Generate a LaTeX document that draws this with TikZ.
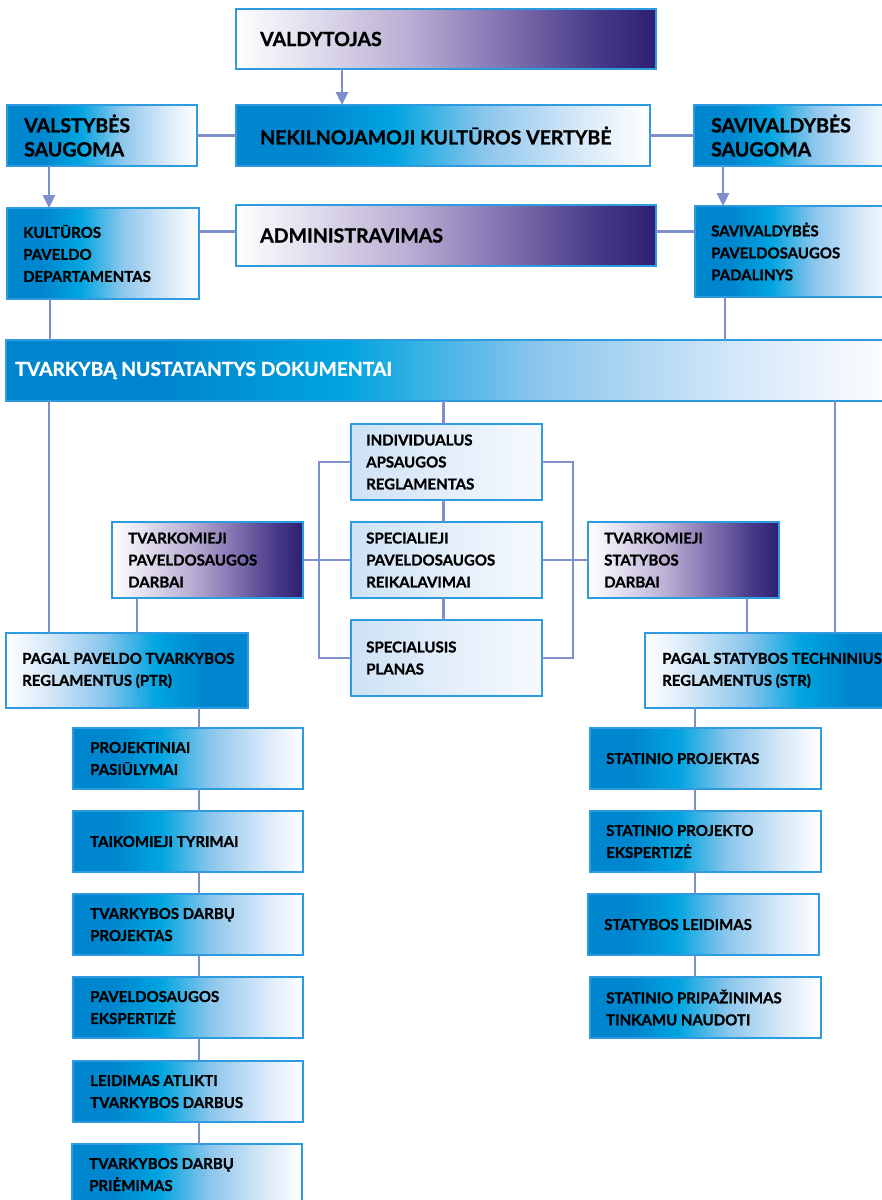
\documentclass[tikz,border=0pt]{standalone}
\usepackage{fontspec}
\setmainfont{Lato}[BoldFeatures={FakeBold=1}]
\usetikzlibrary{arrows.meta,calc}
\definecolor{conn}{HTML}{7F8FCB}
\definecolor{bord}{HTML}{2E9BE0}
\definecolor{bA}{HTML}{0086CE}
\definecolor{bB}{HTML}{00A4E0}
\definecolor{bC}{HTML}{8CC6EC}
\definecolor{bD}{HTML}{D4E7F8}
\definecolor{pA}{HTML}{E8E4F1}
\definecolor{pB}{HTML}{BBB1D5}
\definecolor{pC}{HTML}{8172B0}
\definecolor{pD}{HTML}{473987}
\definecolor{pE}{HTML}{2E1E72}
\definecolor{lA}{HTML}{CEE2F5}
\definecolor{lB}{HTML}{F7FAFE}
\pgfdeclarehorizontalshading{bluewhite}{100bp}{color(0bp)=(bA); color(25bp)=(bA); color(34bp)=(bA); color(44bp)=(bB); color(55bp)=(bC); color(66bp)=(bD); color(75bp)=(white); color(100bp)=(white)}
\pgfdeclarehorizontalshading{whiteblue}{100bp}{color(0bp)=(white); color(25bp)=(white); color(34bp)=(bD); color(45bp)=(bC); color(56bp)=(bB); color(66bp)=(bA); color(75bp)=(bA); color(100bp)=(bA)}
\pgfdeclarehorizontalshading{whitepurple}{100bp}{color(0bp)=(white); color(25bp)=(white); color(32bp)=(pA); color(45bp)=(pB); color(57bp)=(pC); color(68bp)=(pD); color(75bp)=(pE); color(100bp)=(pE)}
\tikzset{
  boxbase/.style={draw=bord, line width=1.3pt, inner sep=0pt, outer sep=0pt},
  bluebox/.style={boxbase, shading=bluewhite},
  revbox/.style={boxbase, shading=whiteblue},
  purplebox/.style={boxbase, shading=whitepurple},
  lightbox/.style={boxbase, left color=lA, right color=lB},
  bigtxt/.style={inner sep=0pt, align=left, font=\bfseries\fontsize{19.5}{24}\selectfont},
  medtxt/.style={inner sep=0pt, align=left, font=\bfseries\fontsize{15}{22}\selectfont},
  whtxt/.style={inner sep=0pt, align=left, text=white, font=\bfseries\fontsize{19.3}{22}\selectfont},
  conn/.style={draw=conn, line width=2.6pt},
  arr/.style={conn, -{Triangle[width=12pt,length=13pt]}}
}
\newcommand\mkbox[9]{%
  \node[#1, minimum width=#6pt, minimum height=#7pt, anchor=north west] (#3) at (#4,#5) {};
  \node[#2, anchor=west] (#3-t) at ([xshift=#8pt]#3.west) {#9};}
\begin{document}
\begin{tikzpicture}[x=1pt,y=-1pt]
\useasboundingbox (0,0) rectangle (882,1200);
\clip (0,0) rectangle (882,1200);
% top
\mkbox{purplebox}{bigtxt}{vald}{236}{9}{420}{60}{24}{VALDYTOJAS}
\mkbox{bluebox}{bigtxt}{nekil}{236}{105}{414}{61}{24}{NEKILNOJAMOJI KULTŪROS VERTYBĖ}
\mkbox{bluebox}{bigtxt}{valst}{7}{105}{190}{61}{17}{VALSTYBĖS\\SAUGOMA}
\mkbox{bluebox}{bigtxt}{savs}{694}{105}{200}{61}{17}{SAVIVALDYBĖS\\SAUGOMA}
\mkbox{bluebox}{medtxt}{kpd}{7}{208}{192}{91}{16}{KULTŪROS\\PAVELDO\\DEPARTAMENTAS}
\mkbox{purplebox}{bigtxt}{admin}{236}{205}{420}{61}{24}{ADMINISTRAVIMAS}
\mkbox{bluebox}{medtxt}{spp}{695}{206}{200}{91}{16}{SAVIVALDYBĖS\\PAVELDOSAUGOS\\PADALINYS}
\mkbox{bluebox}{whtxt}{tnd}{6}{340}{890}{61}{9}{TVARKYBĄ NUSTATANTYS DOKUMENTAI}
% middle
\mkbox{lightbox}{medtxt}{iar}{351}{424}{191}{76}{15}{INDIVIDUALUS\\APSAUGOS\\REGLAMENTAS}
\mkbox{lightbox}{medtxt}{spr}{351}{522}{191}{76}{15}{SPECIALIEJI\\PAVELDOSAUGOS\\REIKALAVIMAI}
\mkbox{lightbox}{medtxt}{sp}{351}{620}{191}{76}{15}{SPECIALUSIS\\PLANAS}
\mkbox{purplebox}{medtxt}{tpd}{112}{522}{191}{76}{16}{TVARKOMIEJI\\PAVELDOSAUGOS\\DARBAI}
\mkbox{purplebox}{medtxt}{tsd}{588}{522}{191}{76}{16}{TVARKOMIEJI\\STATYBOS\\DARBAI}
\mkbox{revbox}{medtxt}{ptr}{6}{633}{242}{75}{16}{PAGAL PAVELDO TVARKYBOS\\REGLAMENTUS (PTR)}
\mkbox{revbox}{medtxt}{str}{645}{633}{252}{75}{17}{PAGAL STATYBOS TECHNINIUS\\REGLAMENTUS (STR)}
% left chain
\mkbox{bluebox}{medtxt}{la}{73}{728}{230}{61}{17}{PROJEKTINIAI\\PASIŪLYMAI}
\mkbox{bluebox}{medtxt}{lb}{73}{811}{230}{61}{17}{TAIKOMIEJI TYRIMAI}
\mkbox{bluebox}{medtxt}{lc}{73}{894}{230}{61}{17}{TVARKYBOS DARBŲ\\PROJEKTAS}
\mkbox{bluebox}{medtxt}{ld}{73}{977}{230}{61}{17}{PAVELDOSAUGOS\\EKSPERTIZĖ}
\mkbox{bluebox}{medtxt}{le}{73}{1061}{230}{61}{17}{LEIDIMAS ATLIKTI\\TVARKYBOS DARBUS}
\mkbox{bluebox}{medtxt}{lf}{72}{1144}{230}{61}{17}{TVARKYBOS DARBŲ\\PRIĖMIMAS}
% right chain
\mkbox{bluebox}{medtxt}{ra}{590}{728}{231}{61}{16}{STATINIO PROJEKTAS}
\mkbox{bluebox}{medtxt}{rb}{590}{811}{231}{61}{16}{STATINIO PROJEKTO\\EKSPERTIZĖ}
\mkbox{bluebox}{medtxt}{rc}{588}{894}{231}{61}{16}{STATYBOS LEIDIMAS}
\mkbox{bluebox}{medtxt}{rd}{590}{977}{231}{61}{16}{STATINIO PRIPAŽINIMAS\\TINKAMU NAUDOTI}
% connectors top
\draw[arr] ([xshift=106pt]vald.south west) -- ([xshift=106pt]vald.south west |- nekil.north);
\draw[conn] (valst.east) -- (nekil.west);
\draw[conn] (nekil.east) -- (savs.west);
\draw[arr] ([xshift=42pt]valst.south west) -- ([xshift=42pt]valst.south west |- kpd.north);
\draw[arr] ([xshift=29pt]savs.south west) -- ([xshift=29pt]savs.south west |- spp.north);
\draw[conn] ([yshift=4pt]admin.west -| kpd.east) -- ([yshift=4pt]admin.west);
\draw[conn] ([yshift=4pt]admin.east) -- ([yshift=4pt]admin.east -| spp.west);
\draw[conn] ([xshift=43pt]kpd.south west) -- ([xshift=43pt]kpd.south west |- tnd.north);
\draw[conn] ([xshift=30pt]spp.south west) -- ([xshift=30pt]spp.south west |- tnd.north);
% from documents
\draw[conn] ([xshift=43pt]ptr.north west |- tnd.south) -- ([xshift=43pt]ptr.north west);
\draw[conn] ([xshift=190pt]str.north west |- tnd.south) -- ([xshift=190pt]str.north west);
\draw[conn] ([xshift=-3pt]iar.north |- tnd.south) -- ([xshift=-3pt]iar.north);
\draw[conn] ([xshift=-3pt]iar.south) -- ([xshift=-3pt]spr.north);
\draw[conn] ([xshift=-3pt]spr.south) -- ([xshift=-3pt]sp.north);
% brackets
\draw[conn] (iar.west) -| ([xshift=-32pt]sp.west) -- (sp.west);
\draw[conn] (tpd.east) -- (spr.west);
\draw[conn] (iar.east) -| ([xshift=31pt]sp.east) -- (sp.east);
\draw[conn] (spr.east) -- (tsd.west);
\draw[conn] ([xshift=25pt]tpd.south west) -- ([xshift=25pt]tpd.south west |- ptr.north);
\draw[conn] ([xshift=159pt]tsd.south west) -- ([xshift=159pt]tsd.south west |- str.north);
% left chain
\draw[conn] ([xshift=126pt]la.north west |- ptr.south) -- ([xshift=126pt]la.north west);
\draw[conn] ([xshift=126pt]la.south west) -- ([xshift=126pt]lb.north west);
\draw[conn] ([xshift=126pt]lb.south west) -- ([xshift=126pt]lc.north west);
\draw[conn] ([xshift=126pt]lc.south west) -- ([xshift=126pt]ld.north west);
\draw[conn] ([xshift=126pt]ld.south west) -- ([xshift=126pt]le.north west);
\draw[conn] ([xshift=126pt]le.south west) -- ([xshift=126pt]le.south west |- lf.north);
% right chain
\draw[conn] ([xshift=105pt]ra.north west |- str.south) -- ([xshift=105pt]ra.north west);
\draw[conn] ([xshift=105pt]ra.south west) -- ([xshift=105pt]rb.north west);
\draw[conn] ([xshift=105pt]rb.south west) -- ([xshift=105pt]rb.south west |- rc.north);
\draw[conn] ([xshift=105pt]rb.south west |- rc.south) -- ([xshift=105pt]rd.north west);
\end{tikzpicture}
\end{document}
